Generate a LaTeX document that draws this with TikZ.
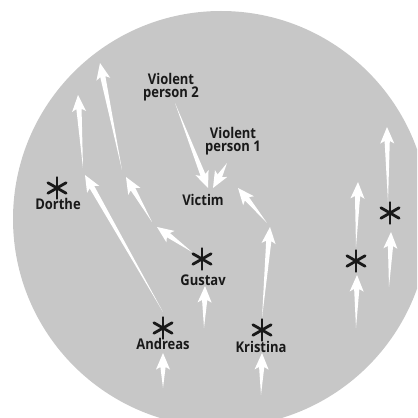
\documentclass[tikz,border=0pt]{standalone}
\usepackage{fontspec}
\setmainfont{Open Sans}
\newfontfamily\crowdfont{Open Sans}[FakeStretch=0.88]
\usetikzlibrary{calc}

\definecolor{crowdgray}{RGB}{199,199,199}

% tapered white arrow from #1 (thin tail) to #2 (tip)
\newcommand{\flowarrow}[2]{%
  \coordinate (fa-base) at ($(#2)!0.35cm!(#1)$);
  \fill[white] (#1)
    -- ($(fa-base)!0.065cm!90:(#2)$)
    -- ($(#2)!0.45cm!-23:(#1)$)
    -- (#2)
    -- ($(#2)!0.45cm!23:(#1)$)
    -- ($(fa-base)!0.065cm!-90:(#2)$)
    -- cycle;}

% six-armed mark for a person
\newcommand{\bystander}[1]{%
  \foreach \a in {90,30,150}
    \draw[line width=2pt, line cap=round, black!90] (#1) +(\a:10.5) -- +(\a+180:10.5);}

\begin{document}
\begin{tikzpicture}[x=0.025cm, y=-0.025cm,
    persontext/.style={font=\crowdfont\bfseries\fontsize{10.5}{9.6}\selectfont,
      text=black!90, inner sep=0pt, align=center}]
  \clip (0,0) rectangle (417,418);
  \fill[crowdgray] (221,219) circle[radius=208];

  % people
  \coordinate (dorthe) at (57,188);
  \coordinate (gustav) at (202,259);
  \coordinate (andreas) at (163,328);
  \coordinate (kristina) at (262,330);
  \coordinate (walkerA) at (356,261);
  \coordinate (walkerB) at (390,213);
  \foreach \p in {dorthe,gustav,andreas,kristina,walkerA,walkerB}
    \bystander{\p};

  \node[persontext] (victim) at (203,200) {Victim};
  \node[persontext] (violent2) at (171,87) {Violent\\person 2};
  \node[persontext] (violent1) at (233,141) {Violent\\person 1};
  \node[persontext] (dortheL) at (58,204) {Dorthe};
  \node[persontext] (gustavL) at (203,280) {Gustav};
  \node[persontext] (andreasL) at (163,344) {Andreas};
  \node[persontext] (kristinaL) at (261,347) {Kristina};

  % arrow ends
  \coordinate (v2tail) at (175,103);  \coordinate (v2tip) at (208,188);
  \coordinate (v1tail) at (227,163);  \coordinate (v1tip) at (213,188);
  \coordinate (kr0) at (261,395);     \coordinate (kr1) at (262,353);
  \coordinate (kr2) at (262,318);     \coordinate (kr3) at (270,227);
  \coordinate (kr4) at (267,223);     \coordinate (kr5) at (238,188);
  \coordinate (an0) at (163,388);     \coordinate (an1) at (163,353);
  \coordinate (an2) at (163,312);     \coordinate (an3) at (85,175);
  \coordinate (an4) at (83,168);      \coordinate (an5) at (78,95);
  \coordinate (gu0) at (204,328);     \coordinate (gu1) at (205,286);
  \coordinate (gu2) at (192,252);     \coordinate (gu3) at (157,227);
  \coordinate (gu4) at (152,222);     \coordinate (gu5) at (126,177);
  \coordinate (gu6) at (122,170);     \coordinate (gu7) at (100,63);
  \coordinate (wa0) at (356,328);     \coordinate (wa1) at (357,275);
  \coordinate (wa2) at (356,247);     \coordinate (wa3) at (358,182);
  \coordinate (wb0) at (389,287);     \coordinate (wb1) at (391,232);
  \coordinate (wb2) at (388,202);     \coordinate (wb3) at (387,127);

  \foreach \t/\h in {v2tail/v2tip, v1tail/v1tip, kr0/kr1, kr2/kr3, kr4/kr5,
      an0/an1, an2/an3, an4/an5, gu0/gu1, gu2/gu3, gu4/gu5, gu6/gu7,
      wa0/wa1, wa2/wa3, wb0/wb1, wb2/wb3}
    \flowarrow{\t}{\h};
\end{tikzpicture}
\end{document}
